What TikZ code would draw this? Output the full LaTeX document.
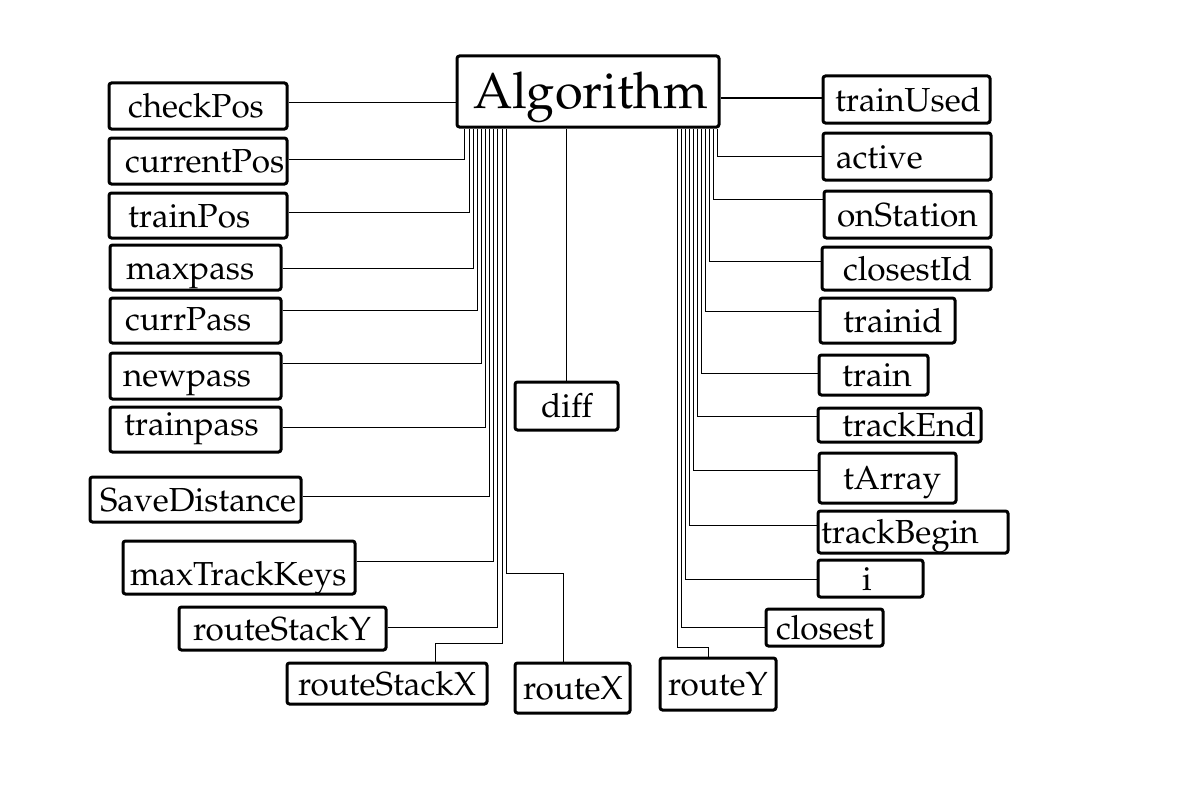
\documentclass[tikz,border=0pt]{standalone}
\usepackage[T1]{fontenc}
\usepackage{mathpazo}
\tikzset{
  bx/.style={draw, line width=3pt, rounded corners=2.5pt, inner ysep=0pt,
    align=left, text height=23pt, text depth=0pt, font=\fontsize{33.3}{36}\selectfont},
  bigbx/.style={bx, text height=35pt, font=\fontsize{50.5}{55}\selectfont},
  conn/.style={draw, line width=1pt}
}
\newcommand\mkbox[8][]{%
  \pgfmathsetmacro\bxH{#6-#4}%
  \pgfmathsetmacro\bxP{#7-#3}%
  \pgfmathsetmacro\bxT{#5-#7-(#7-#3)}%
  \node[bx, #1, inner xsep=\bxP pt, text width=\bxT pt, minimum height=\bxH pt]
    (#2) at ({(#3+#5)/2},{(#4+#6)/2}) {\mbox{#8}};}
\begin{document}
\begin{tikzpicture}[x=1pt,y=-1pt]
\useasboundingbox (0,0) rectangle (1200,800);
% boxes
\mkbox[bigbx]{Alg}{457}{56}{719}{127}{473}{Algorithm}
\mkbox{checkPos}{109}{83}{287}{129}{128}{checkPos}
\mkbox{currentPos}{109}{138}{287}{184}{125}{currentPos}
\mkbox{trainPos}{109}{193}{287}{238}{128}{trainPos}
\mkbox{maxpass}{110}{245}{281}{290}{126}{maxpass}
\mkbox[text height=20pt]{currPass}{110}{298}{281}{343}{125}{currPass}
\mkbox[text height=20pt]{newpass}{110}{353}{281}{399}{123}{newpass}
\mkbox[text height=12pt]{trainpass}{110}{407}{281}{452}{124}{trainpass}
\mkbox{SaveDistance}{90}{477}{301}{522}{100}{SaveDistance}
\mkbox[text height=35pt]{maxTrackKeys}{123}{541}{355}{594}{130}{maxTrackKeys}
\mkbox{routeStackY}{179}{607}{386}{650}{193}{routeStackY}
\mkbox{routeStackX}{287}{663}{487}{704}{298}{routeStackX}
\mkbox{routeX}{515}{663}{630}{713}{523}{routeX}
\mkbox{diff}{515}{382}{618}{430}{541}{diff}
\mkbox{routeY}{660}{658}{776}{710}{668}{routeY}
\mkbox{closest}{766}{609}{883}{646}{776}{closest}
\mkbox{i}{818}{560}{923}{597}{862}{i}
\mkbox{trackBegin}{818}{511}{1008}{553}{821}{trackBegin}
\mkbox{tArray}{819}{453}{956}{503}{843}{tArray}
\mkbox{trackEnd}{818}{408}{981}{442}{842}{trackEnd}
\mkbox{train}{819}{355}{928}{395}{842}{train}
\mkbox{trainid}{820}{298}{955}{343}{843}{trainid}
\mkbox{closestId}{822}{247}{991}{290}{843}{closestId}
\mkbox{onStation}{824}{191}{991}{238}{837}{onStation}
\mkbox{active}{823}{133}{991}{180}{836}{active}
\mkbox{trainUsed}{823}{76}{990}{123}{835}{trainUsed}
% left connectors
\draw[conn] (checkPos.east |- 0,102) -- (Alg.west |- 0,102);
\draw[conn] (currentPos.east |- 0,159) -| (Alg.south -| 464,0);
\draw[conn] (trainPos.east |- 0,212) -| (Alg.south -| 469,0);
\draw[conn] (maxpass.east |- 0,268) -| (Alg.south -| 473,0);
\draw[conn] (currPass.east |- 0,310) -| (Alg.south -| 477,0);
\draw[conn] (newpass.east |- 0,363) -| (Alg.south -| 481,0);
\draw[conn] (trainpass.east |- 0,427) -| (Alg.south -| 485,0);
\draw[conn] (SaveDistance.east |- 0,496) -| (Alg.south -| 489,0);
\draw[conn] (maxTrackKeys.east |- 0,561) -| (Alg.south -| 493,0);
\draw[conn] (routeStackY.east |- 0,627) -| (Alg.south -| 497,0);
\draw[conn] (routeStackX.north -| 435,0) |- (502,643) -- (Alg.south -| 502,0);
\draw[conn] (routeX.north -| 563,0) |- (506,573) -- (Alg.south -| 506,0);
\draw[conn] (diff.north) -- (Alg.south -| diff.north);
% right connectors
\draw[conn] (Alg.east |- 0,98) -- (trainUsed.west |- 0,98);
\draw[conn] (active.west |- 0,156) -| (Alg.south -| 717,0);
\draw[conn] (onStation.west |- 0,199) -| (Alg.south -| 713,0);
\draw[conn] (closestId.west |- 0,261) -| (Alg.south -| 709,0);
\draw[conn] (trainid.west |- 0,311) -| (Alg.south -| 705,0);
\draw[conn] (train.west |- 0,373) -| (Alg.south -| 701,0);
\draw[conn] (trackEnd.west |- 0,416) -| (Alg.south -| 697,0);
\draw[conn] (tArray.west |- 0,470) -| (Alg.south -| 693,0);
\draw[conn] (trackBegin.west |- 0,525) -| (Alg.south -| 689,0);
\draw[conn] (i.west |- 0,579) -| (Alg.south -| 685,0);
\draw[conn] (closest.west |- 0,627) -| (Alg.south -| 681,0);
\draw[conn] (routeY.north -| 708,0) |- (677,647) -- (Alg.south -| 677,0);
\end{tikzpicture}
\end{document}
